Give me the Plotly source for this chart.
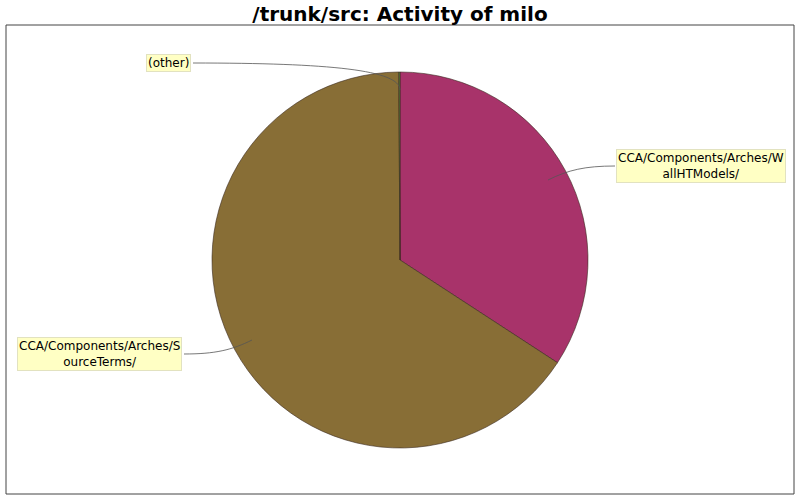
import plotly.graph_objects as go

title = "/trunk/src: Activity of milo"
labels = ["CCA/Components/Arches/WallHTModels/", "CCA/Components/Arches/SourceTerms/", "(other)"]
label_text = ["CCA/Components/Arches/W<br>allHTModels/", "CCA/Components/Arches/S<br>ourceTerms/", "(other)"]
values = [34.2, 65.7, 0.1]
colors = ["#A8336A", "#886E36", "#5C8F3E"]

W, H = 800, 500

def px(x):
    return x / W

def py(y):
    return 1 - y / H

fig = go.Figure()
fig.add_trace(go.Pie(
    labels=labels,
    values=values,
    sort=False,
    direction="clockwise",
    rotation=0,
    textinfo="none",
    hoverinfo="label+percent",
    marker=dict(colors=colors, line=dict(color="#3a2a20", width=0.6)),
    domain=dict(x=[px(212), px(588)], y=[py(448), py(72)]),
    showlegend=False,
))

# label boxes (center positions in pixels)
label_pos = [(701, 166), (99, 354), (168, 63)]
for txt, (x, y) in zip(label_text, label_pos):
    fig.add_annotation(
        x=px(x), y=py(y), xref="paper", yref="paper",
        text=txt, showarrow=False,
        font=dict(family="DejaVu Sans", size=12, color="black"),
        bgcolor="#FFFFC4", bordercolor="#E2E2C0", borderwidth=1, borderpad=1,
        xanchor="center", yanchor="middle", align="center",
    )

# connector curves
paths = [
    "M 615 166 C 585 166, 568 170, 548 180",
    "M 184 354 C 215 354, 232 350, 252 340",
    "M 193 63 C 330 63, 400 70, 400 90",
]
for p in paths:
    fig.add_shape(type="path", path=p, xref="x", yref="y",
                  line=dict(color="#555555", width=0.8), layer="above")

# frame
fig.add_shape(type="rect", xref="x", yref="y", x0=6, y0=25, x1=794, y1=494,
              line=dict(color="#444444", width=1), layer="below")

fig.update_layout(
    width=W, height=H,
    margin=dict(l=0, r=0, t=0, b=0),
    paper_bgcolor="white", plot_bgcolor="rgba(0,0,0,0)",
    title=dict(text="<b>" + title + "</b>", x=0.5, xanchor="center", y=1 - 14 / H, yanchor="middle",
               font=dict(family="DejaVu Sans", size=20, color="black")),
    xaxis=dict(range=[0, W], visible=False, fixedrange=True),
    yaxis=dict(range=[H, 0], visible=False, fixedrange=True),
)

fig.write_html("out.html", post_script="document.body.style.margin='0';",
               config={"displayModeBar": False})
